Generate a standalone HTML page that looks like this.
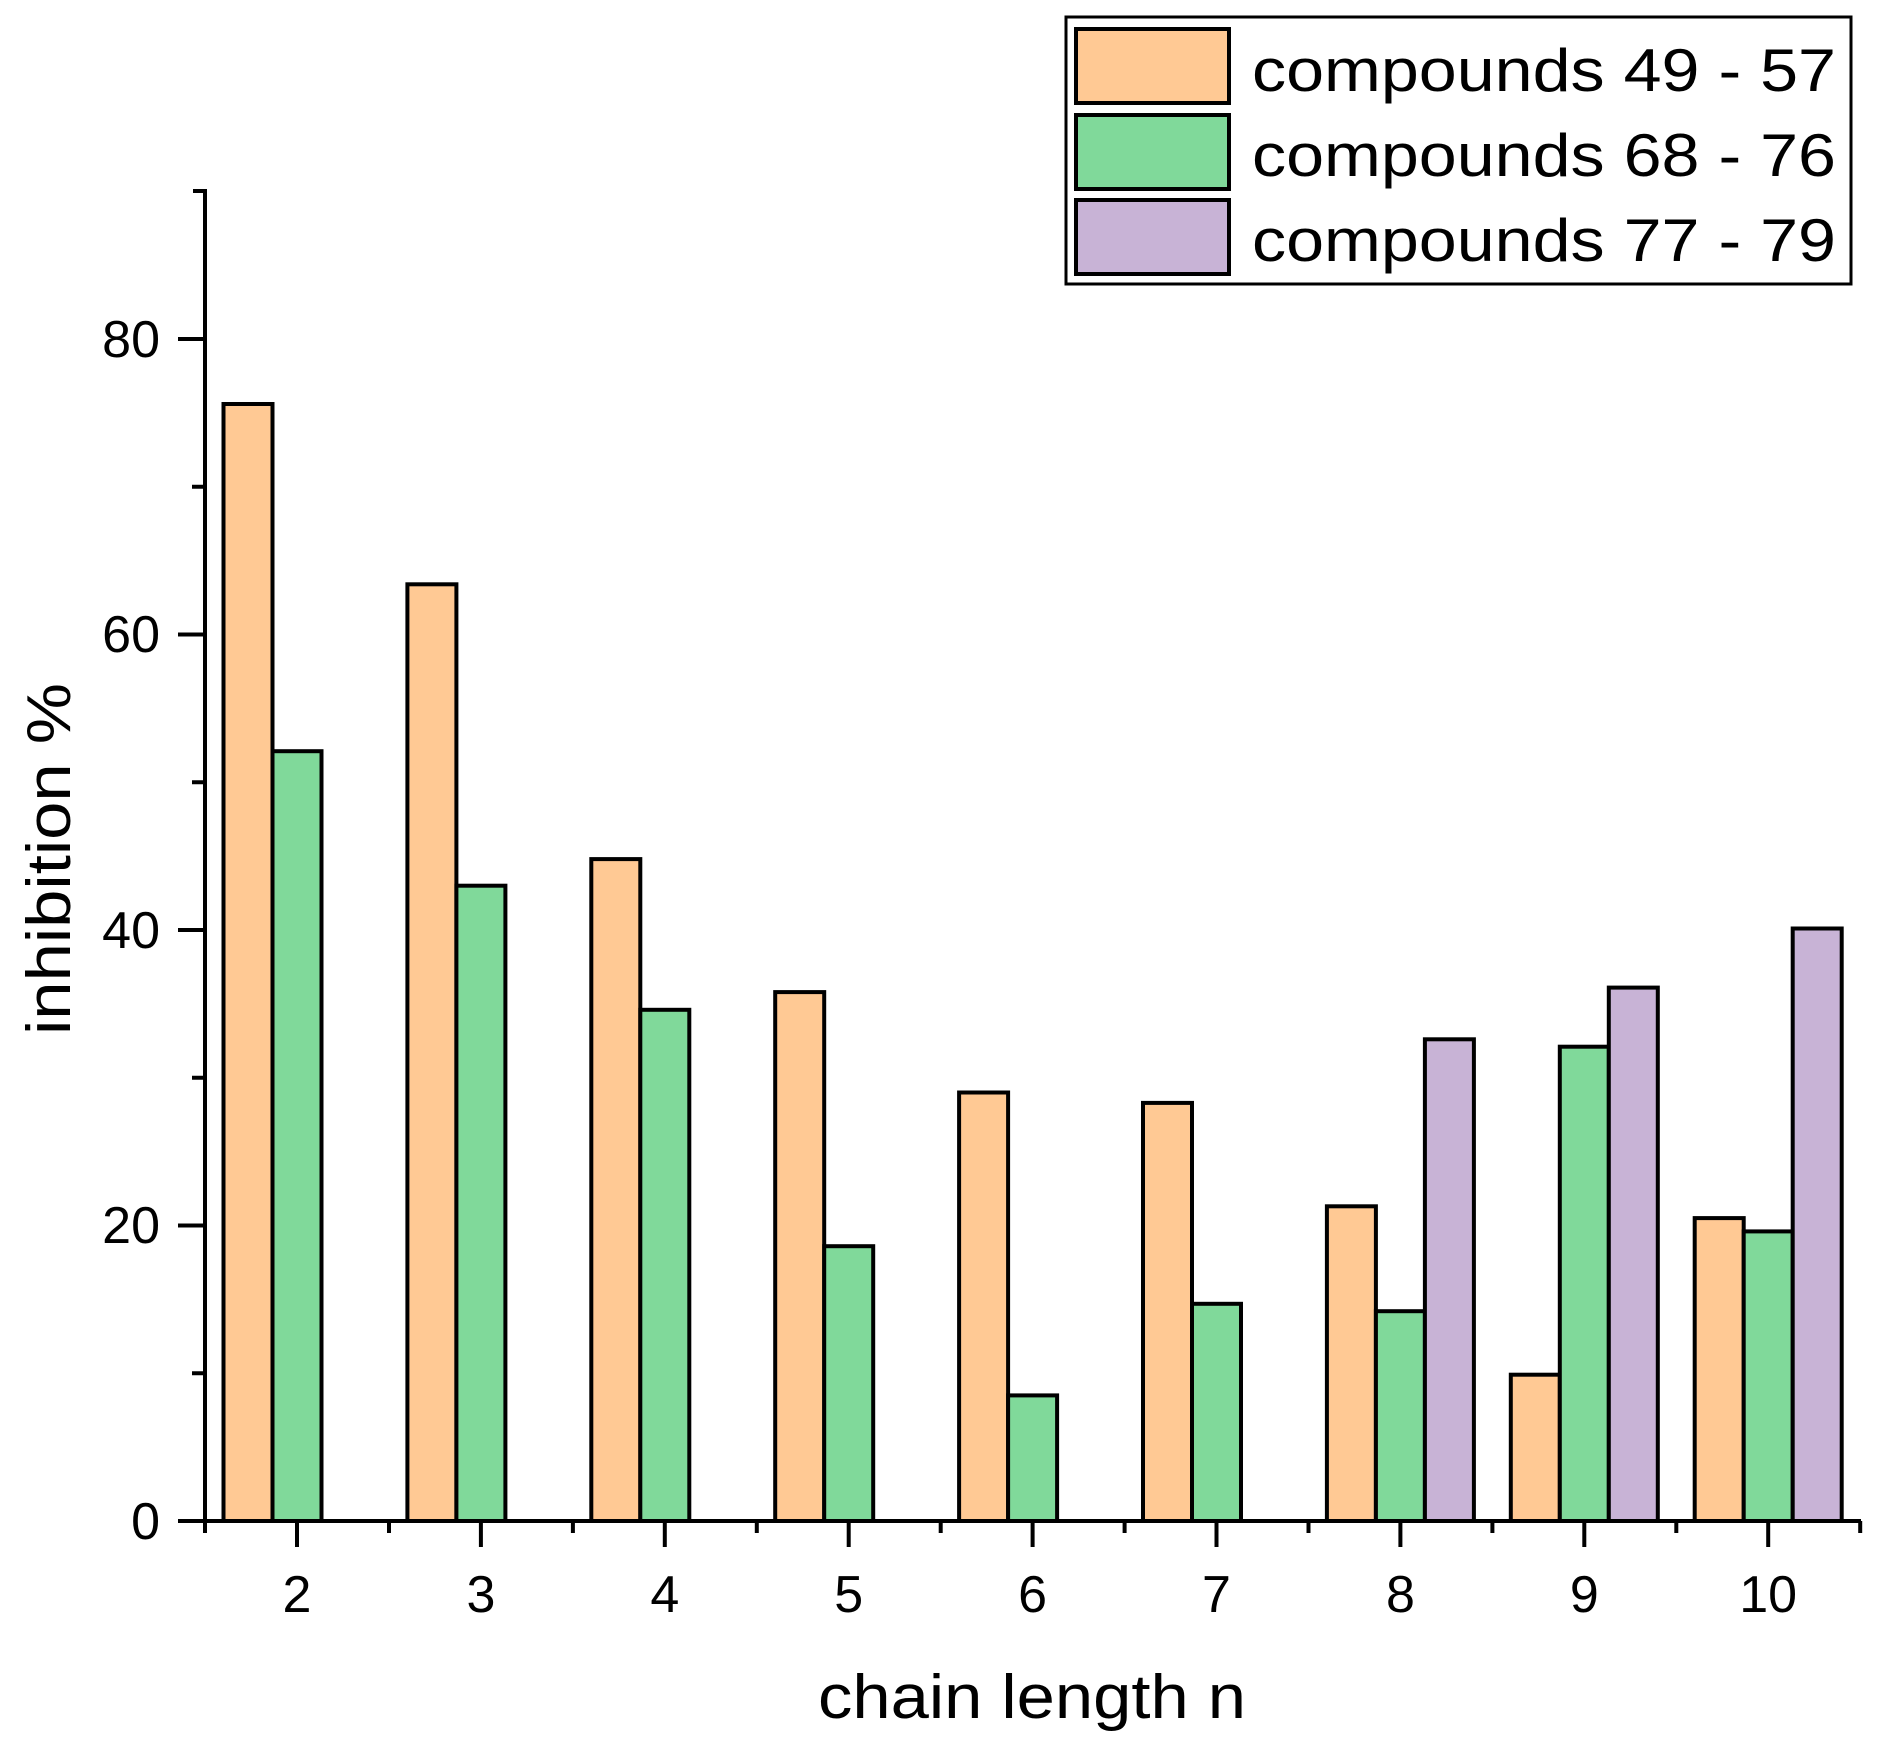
<!DOCTYPE html>
<html><head><meta charset="utf-8"><style>html,body{margin:0;padding:0;background:#fff}</style></head>
<body>
<svg width="1892" height="1756" xmlns="http://www.w3.org/2000/svg" font-family="Liberation Sans, Arial, sans-serif">
<rect width="1892" height="1756" fill="#fff"/>
<g stroke="#000" stroke-width="4">
<rect x="223.5" y="404.0" width="49" height="1117.0" fill="#FFC994"/>
<rect x="272.5" y="751.2" width="49" height="769.8" fill="#80D99A"/>
<rect x="407.4" y="584.3" width="49" height="936.7" fill="#FFC994"/>
<rect x="456.4" y="885.7" width="49" height="635.3" fill="#80D99A"/>
<rect x="591.3" y="859.1" width="49" height="661.9" fill="#FFC994"/>
<rect x="640.3" y="1009.8" width="49" height="511.2" fill="#80D99A"/>
<rect x="775.2" y="992.1" width="49" height="528.9" fill="#FFC994"/>
<rect x="824.2" y="1246.2" width="49" height="274.8" fill="#80D99A"/>
<rect x="959.1" y="1092.5" width="49" height="428.5" fill="#FFC994"/>
<rect x="1008.1" y="1395.4" width="49" height="125.6" fill="#80D99A"/>
<rect x="1143.0" y="1102.9" width="49" height="418.1" fill="#FFC994"/>
<rect x="1192.0" y="1303.8" width="49" height="217.2" fill="#80D99A"/>
<rect x="1326.9" y="1206.3" width="49" height="314.7" fill="#FFC994"/>
<rect x="1375.9" y="1311.2" width="49" height="209.8" fill="#80D99A"/>
<rect x="1424.9" y="1039.3" width="49" height="481.7" fill="#C8B3D6"/>
<rect x="1510.8" y="1374.7" width="49" height="146.3" fill="#FFC994"/>
<rect x="1559.8" y="1046.7" width="49" height="474.3" fill="#80D99A"/>
<rect x="1608.8" y="987.6" width="49" height="533.4" fill="#C8B3D6"/>
<rect x="1694.7" y="1218.1" width="49" height="302.9" fill="#FFC994"/>
<rect x="1743.7" y="1231.4" width="49" height="289.6" fill="#80D99A"/>
<rect x="1792.7" y="928.5" width="49" height="592.5" fill="#C8B3D6"/>
</g>
<g stroke="#000" stroke-width="4" fill="none">
<line x1="205" y1="189" x2="205" y2="1533"/>
<line x1="193" y1="191" x2="207" y2="191"/>
<line x1="178" y1="1521" x2="1861" y2="1521"/>
<line x1="178" y1="1521" x2="205" y2="1521"/>
<line x1="192" y1="1373.25" x2="205" y2="1373.25"/>
<line x1="178" y1="1225.5" x2="205" y2="1225.5"/>
<line x1="192" y1="1077.75" x2="205" y2="1077.75"/>
<line x1="178" y1="930" x2="205" y2="930"/>
<line x1="192" y1="782.25" x2="205" y2="782.25"/>
<line x1="178" y1="634.5" x2="205" y2="634.5"/>
<line x1="192" y1="486.75" x2="205" y2="486.75"/>
<line x1="178" y1="339" x2="205" y2="339"/>
<line x1="297" y1="1521" x2="297" y2="1547"/>
<line x1="480.9" y1="1521" x2="480.9" y2="1547"/>
<line x1="664.8" y1="1521" x2="664.8" y2="1547"/>
<line x1="848.7" y1="1521" x2="848.7" y2="1547"/>
<line x1="1032.6" y1="1521" x2="1032.6" y2="1547"/>
<line x1="1216.5" y1="1521" x2="1216.5" y2="1547"/>
<line x1="1400.4" y1="1521" x2="1400.4" y2="1547"/>
<line x1="1584.3" y1="1521" x2="1584.3" y2="1547"/>
<line x1="1768.2" y1="1521" x2="1768.2" y2="1547"/>
<line x1="389" y1="1521" x2="389" y2="1533"/>
<line x1="572.9" y1="1521" x2="572.9" y2="1533"/>
<line x1="756.8" y1="1521" x2="756.8" y2="1533"/>
<line x1="940.7" y1="1521" x2="940.7" y2="1533"/>
<line x1="1124.6" y1="1521" x2="1124.6" y2="1533"/>
<line x1="1308.5" y1="1521" x2="1308.5" y2="1533"/>
<line x1="1492.4" y1="1521" x2="1492.4" y2="1533"/>
<line x1="1676.3" y1="1521" x2="1676.3" y2="1533"/>
<line x1="1860.2" y1="1521" x2="1860.2" y2="1533"/>
</g>
<g font-size="52" fill="#000" text-anchor="end">
<text x="160" y="1539">0</text>
<text x="160" y="1243">20</text>
<text x="160" y="948">40</text>
<text x="160" y="652">60</text>
<text x="160" y="357">80</text>
</g>
<g font-size="52" fill="#000" text-anchor="middle">
<text x="297" y="1612">2</text>
<text x="480.9" y="1612">3</text>
<text x="664.8" y="1612">4</text>
<text x="848.7" y="1612">5</text>
<text x="1032.6" y="1612">6</text>
<text x="1216.5" y="1612">7</text>
<text x="1400.4" y="1612">8</text>
<text x="1584.3" y="1612">9</text>
<text x="1768.2" y="1612">10</text>
</g>
<text x="818" y="1718" font-size="62" textLength="428" lengthAdjust="spacingAndGlyphs">chain length n</text>
<text transform="translate(70,1035) rotate(-90)" font-size="62" textLength="352" lengthAdjust="spacingAndGlyphs">inhibition %</text>
<rect x="1066" y="17" width="785" height="267" fill="#fff" stroke="#000" stroke-width="3"/>
<g stroke="#000" stroke-width="4">
<rect x="1076" y="29" width="153" height="74" fill="#FFC994"/>
<rect x="1076" y="115" width="153" height="74" fill="#80D99A"/>
<rect x="1076" y="200" width="153" height="74" fill="#C8B3D6"/>
</g>
<g font-size="60" fill="#000">
<text x="1252" y="91" textLength="584" lengthAdjust="spacingAndGlyphs">compounds 49 - 57</text>
<text x="1252" y="176" textLength="584" lengthAdjust="spacingAndGlyphs">compounds 68 - 76</text>
<text x="1252" y="261" textLength="584" lengthAdjust="spacingAndGlyphs">compounds 77 - 79</text>
</g>
</svg>
</body></html>
